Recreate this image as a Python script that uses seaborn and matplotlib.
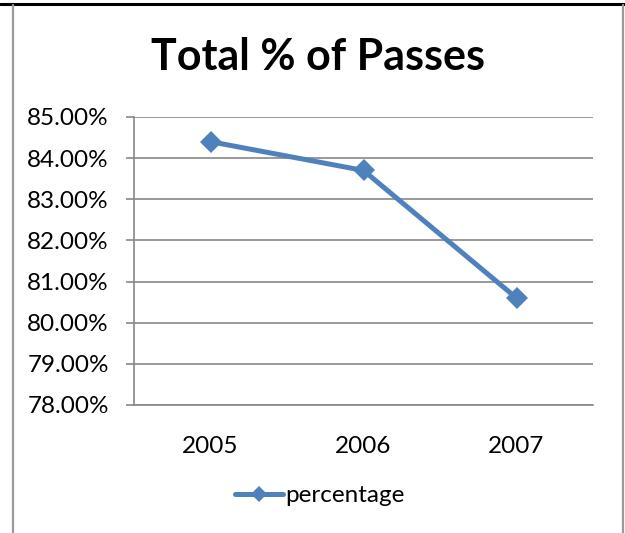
"""
Total % of passes per year, redrawn as a seaborn line chart
"""

import matplotlib.pyplot as plt
import pandas as pd
import seaborn as sns
from matplotlib.lines import Line2D
from matplotlib.ticker import FixedLocator, FuncFormatter

years = ["2005", "2006", "2007"]
percentage = [84.4, 83.7, 80.6]
y_ticks = [78, 79, 80, 81, 82, 83, 84, 85]

BLUE = "#4F81BD"
GRID = "#878787"
FONT = ["Lato", "DejaVu Sans"]


def main() -> None:
    sns.set_theme(style="white")
    plt.rcParams["font.family"] = FONT
    plt.rcParams["text.color"] = "black"
    plt.rcParams["xtick.color"] = "black"
    plt.rcParams["ytick.color"] = "black"

    df = pd.DataFrame({"year": years, "percentage": percentage})

    fig = plt.figure(figsize=(6.25, 5.33), dpi=100)
    ax = fig.add_axes([0.2144, 0.2402, 0.7344, 0.5403])

    sns.lineplot(
        data=df, x="year", y="percentage", ax=ax,
        color=BLUE, linewidth=3.6, marker="D", markersize=11.5,
        markeredgewidth=0, label="percentage",
    )

    ax.set_xlim(-0.5, len(years) - 0.5)
    ax.set_ylim(y_ticks[0], y_ticks[-1])
    ax.set_yticks(y_ticks)
    ax.yaxis.set_major_formatter(FuncFormatter(lambda v, _: f"{v:.2f}%"))
    ax.yaxis.grid(True, color=GRID, linewidth=1.2)
    ax.set_axisbelow(True)

    # category boundaries get the tick marks, labels sit in the middle
    ax.xaxis.set_minor_locator(FixedLocator([i - 0.5 for i in range(len(years) + 1)]))
    ax.tick_params(axis="x", which="major", length=0, pad=22, labelsize=17.5)
    ax.tick_params(axis="x", which="minor", length=6, width=1.2, color=GRID, direction="out")
    ax.tick_params(axis="y", length=6, width=1.2, color=GRID, labelcolor="black",
                   direction="out", pad=12, labelsize=17.5, left=True)
    ax.set_xlabel("")
    ax.set_ylabel("")

    for side in ["top", "right"]:
        ax.spines[side].set_visible(False)
    for side in ["left", "bottom"]:
        ax.spines[side].set_color(GRID)
        ax.spines[side].set_linewidth(1.2)

    ax.legend(
        loc="center", bbox_to_anchor=(0.405, -0.315), frameon=False,
        fontsize=17.5, handlelength=2.0, handletextpad=0.1, markerscale=0.7,
    )

    fig.text(318 / 625, 1 - 57 / 533, "Total % of Passes", ha="center", va="center",
             fontsize=31, fontweight="bold", color="black")

    # chart area frame like the spreadsheet export
    fig.add_artist(Line2D([0, 1], [1 - 4 / 533] * 2, color="black", linewidth=2.2))
    fig.add_artist(Line2D([12.5 / 625] * 2, [0, 1 - 5 / 533], color="#9a9a9a", linewidth=1.6))
    fig.add_artist(Line2D([623 / 625] * 2, [0, 1 - 5 / 533], color="#9a9a9a", linewidth=1.6))

    fig.savefig("out.png", dpi=100)


if __name__ == "__main__":
    main()
